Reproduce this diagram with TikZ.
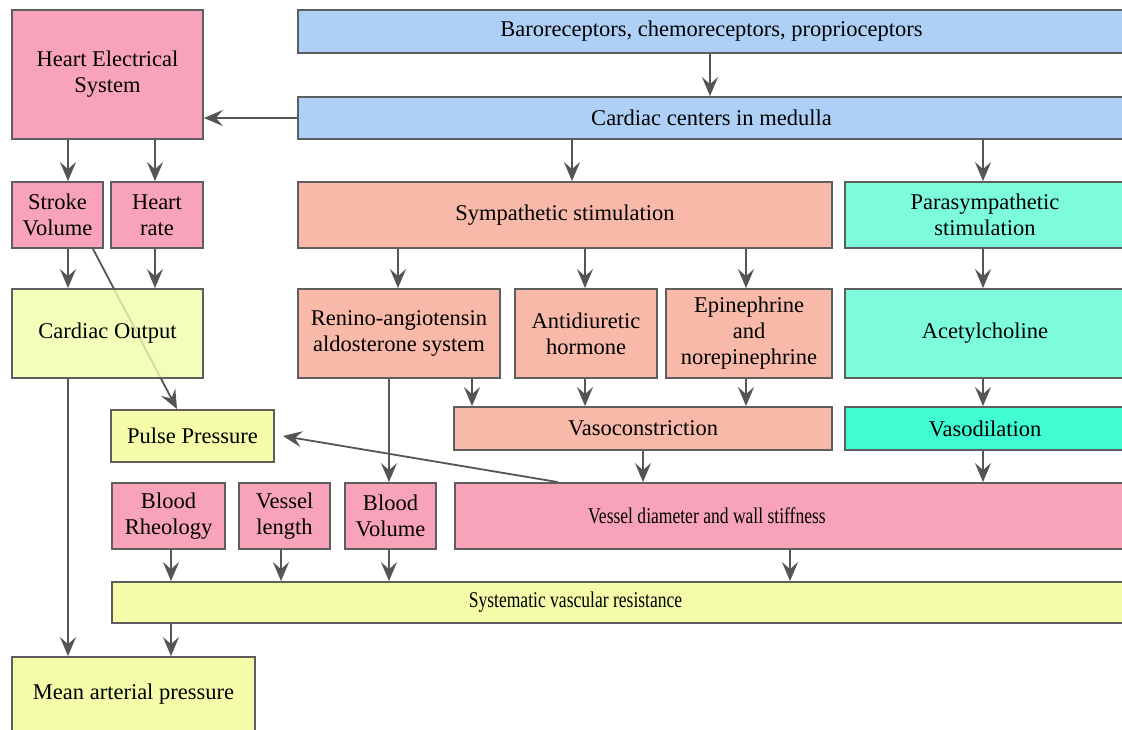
\documentclass[tikz,border=0pt]{standalone}
\usepackage{fontspec}
\setmainfont{Liberation Serif}
\usetikzlibrary{arrows.meta,calc,backgrounds}
\definecolor{pinkc}{HTML}{F8A3BA}
\definecolor{bluec}{HTML}{AED0F7}
\definecolor{salmc}{HTML}{F8B9A8}
\definecolor{aquac}{HTML}{7CFCDC}
\definecolor{aquad}{HTML}{3FFCD3}
\definecolor{yelc}{HTML}{F2FCA9}
\definecolor{bordc}{HTML}{5E5E5E}
\definecolor{arrc}{HTML}{555555}
\begin{document}
\begin{tikzpicture}[x=1pt,y=-1pt,
  box/.style={draw=bordc, line width=1.8pt, inner sep=0pt, align=center,
    font=\fontsize{22.5}{26}\selectfont, text=black},
  arr/.style={draw=arrc, line width=1.8pt, -{Stealth[length=19pt,width=16pt,inset=7pt]}},
  ln/.style={draw=arrc, line width=1.8pt}]
\clip (0,0) rectangle (1122,729);
\useasboundingbox (0,0) rectangle (1122,729);
% column coordinates
\foreach \xx in {68,93,155,171,177,281,389,398,472,558,572,585,643,710,746,790,983}
  \coordinate (X\xx) at (\xx,0);
% nodes
\node[box, fill=bluec, minimum width=827, minimum height=43] (baro) at (711.5,31.5) {Baroreceptors, chemoreceptors, proprioceptors};
\node[box, fill=bluec, minimum width=827, minimum height=42] (card) at (711.5,118) {Cardiac centers in medulla};
\node[box, fill=pinkc, minimum width=191, minimum height=129] (hes) at (107.5,74.5) {Heart Electrical\\System};
\node[box, fill=pinkc, minimum width=91, minimum height=66] (sv) at (57.5,215) {Stroke\\Volume};
\node[box, fill=pinkc, minimum width=92, minimum height=66] (hr) at (157,215) {Heart\\rate};
\node[box, fill=salmc, minimum width=534, minimum height=66] (symp) at (565,215) {Sympathetic stimulation};
\node[box, fill=aquac, minimum width=280, minimum height=66] (para) at (985,215) {Parasympathetic\\stimulation};
\node[box, fill=yelc, fill opacity=0.8, text opacity=1, minimum width=191, minimum height=89] (co) at (107.5,333.5) {Cardiac Output};
\node[box, fill=salmc, minimum width=202, minimum height=89] (ren) at (399,333.5) {Renino-angiotensin\\aldosterone system};
\node[box, fill=salmc, minimum width=142, minimum height=89] (adh) at (586,333.5) {Antidiuretic\\hormone};
\node[box, fill=salmc, minimum width=166, minimum height=89] (epi) at (749,333.5) {Epinephrine\\and\\norepinephrine};
\node[box, fill=aquac, minimum width=280, minimum height=89] (ach) at (985,333.5) {Acetylcholine};
\node[box, fill=salmc, minimum width=378, minimum height=43] (vcon) at (643,428.5) {Vasoconstriction};
\node[box, fill=aquad, minimum width=280, minimum height=43] (vdil) at (985,428.5) {Vasodilation};
\node[box, fill=yelc, minimum width=163, minimum height=52] (pp) at (192.5,436) {Pulse Pressure};
\node[box, fill=pinkc, minimum width=113, minimum height=66] (rheo) at (168.5,516) {Blood\\Rheology};
\node[box, fill=pinkc, minimum width=91, minimum height=66] (vlen) at (284.5,516) {Vessel\\length};
\node[box, fill=pinkc, minimum width=91, minimum height=66] (bvol) at (390.5,516) {Blood\\Volume};
\node[box, fill=pinkc, minimum width=670, minimum height=66] (vd) at (790,516) {\scalebox{0.78}[1]{Vessel diameter and wall stiffness}\hspace*{166pt}};
\node[box, fill=yelc, minimum width=1013, minimum height=41] (svr) at (618.5,602.5) {\scalebox{0.78}[1]{Systematic vascular resistance}\hspace*{86pt}};
\node[box, fill=yelc, minimum width=243, minimum height=74] (map) at (133.5,694) {Mean arterial pressure};
% connectors
\begin{scope}[on background layer]
\draw[arr] (sv.south -| X93) -- (pp.north -| X177);
\end{scope}
\draw[arr] (baro.south -| X710) -- (card.north -| X710);
\draw[arr] (card.west) -- (card.west -| hes.east);
\draw[arr] (hes.south -| X68) -- (sv.north -| X68);
\draw[arr] (hes.south -| X155) -- (hr.north -| X155);
\draw[arr] (card.south -| X572) -- (symp.north -| X572);
\draw[arr] (card.south -| X983) -- (para.north -| X983);
\draw[arr] (sv.south -| X68) -- (co.north -| X68);
\draw[arr] (hr.south -| X155) -- (co.north -| X155);
\draw[arr] (symp.south -| X398) -- (ren.north -| X398);
\draw[arr] (symp.south -| X585) -- (adh.north -| X585);
\draw[arr] (symp.south -| X746) -- (epi.north -| X746);
\draw[arr] (para.south -| X983) -- (ach.north -| X983);
\draw[arr] (ren.south -| X472) -- (vcon.north -| X472);
\draw[arr] (adh.south -| X585) -- (vcon.north -| X585);
\draw[arr] (epi.south -| X746) -- (vcon.north -| X746);
\draw[arr] (ach.south -| X983) -- (vdil.north -| X983);
\draw[arr] (ren.south -| X389) -- (bvol.north -| X389);
\draw[arr] (vcon.south -| X643) -- (vd.north -| X643);
\draw[arr] (vdil.south -| X983) -- (vd.north -| X983);
\draw[arr] (vd.north -| X558) -- ([xshift=8]pp.east);
\draw[arr] (rheo.south -| X171) -- (svr.north -| X171);
\draw[arr] (vlen.south -| X281) -- (svr.north -| X281);
\draw[arr] (bvol.south -| X389) -- (svr.north -| X389);
\draw[arr] (vd.south -| X790) -- (svr.north -| X790);
\draw[arr] (co.south -| X68) -- (map.north -| X68);
\draw[arr] (svr.south -| X171) -- (map.north -| X171);
\end{tikzpicture}
\end{document}
